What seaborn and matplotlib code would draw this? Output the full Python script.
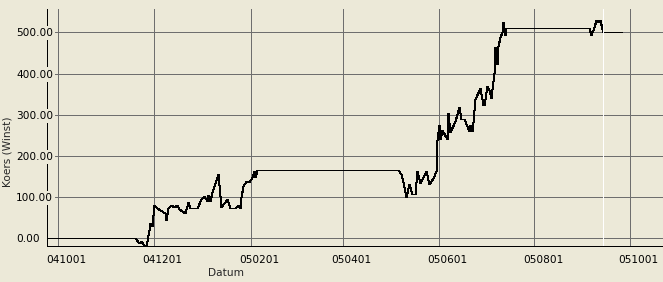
import matplotlib
matplotlib.use("Agg")
import matplotlib.pyplot as plt
import matplotlib.transforms as mtransforms
import seaborn as sns
import pandas as pd

# ---- data ----
dates = [
    "2004-09-24", "2004-11-19", "2004-11-22", "2004-11-23", "2004-11-25", "2004-11-26",
    "2004-11-28", "2004-11-29", "2004-11-30", "2004-12-01", "2004-12-03", "2004-12-05",
    "2004-12-08", "2004-12-09", "2004-12-10", "2004-12-12", "2004-12-14", "2004-12-16",
    "2004-12-17", "2004-12-21", "2004-12-23", "2004-12-24", "2004-12-29", "2004-12-31",
    "2005-01-02", "2005-01-04", "2005-01-05", "2005-01-06", "2005-01-07", "2005-01-11",
    "2005-01-13", "2005-01-15", "2005-01-17", "2005-01-19", "2005-01-22", "2005-01-24",
    "2005-01-25", "2005-01-26", "2005-01-27", "2005-01-29", "2005-01-31", "2005-02-02",
    "2005-02-03", "2005-02-04", "2005-02-05", "2005-05-06", "2005-05-08", "2005-05-09",
    "2005-05-11", "2005-05-13", "2005-05-15", "2005-05-17", "2005-05-18", "2005-05-20",
    "2005-05-22", "2005-05-24", "2005-05-26", "2005-05-28", "2005-05-30", "2005-05-31",
    "2005-06-01", "2005-06-02", "2005-06-03", "2005-06-06", "2005-06-07", "2005-06-08",
    "2005-06-11", "2005-06-14", "2005-06-15", "2005-06-17", "2005-06-20", "2005-06-21",
    "2005-06-22", "2005-06-23", "2005-06-24", "2005-06-27", "2005-06-29", "2005-06-30",
    "2005-07-02", "2005-07-03", "2005-07-04", "2005-07-05", "2005-07-06", "2005-07-07",
    "2005-07-08", "2005-07-09", "2005-07-10", "2005-07-11", "2005-07-12", "2005-07-13",
    "2005-07-14", "2005-09-05", "2005-09-06", "2005-09-08", "2005-09-09", "2005-09-11",
    "2005-09-12", "2005-09-13", "2005-09-14", "2005-09-26",
]
koers = [
    0, 0, -11, -7, -17, -19,
    19, 36, 29, 82, 74, 68,
    61, 45, 74, 80, 76, 82,
    72, 61, 88, 74, 74, 96,
    102, 91, 104, 91, 112, 155,
    76, 86, 96, 74, 74, 80,
    74, 100, 126, 139, 137, 149,
    163, 149, 165, 165, 157, 137,
    100, 133, 108, 108, 163, 134,
    149, 163, 133, 147, 163, 238,
    274, 242, 262, 242, 304, 258,
    286, 320, 290, 290, 260, 274,
    260, 282, 339, 366, 323, 323,
    370, 359, 341, 363, 401, 464,
    424, 468, 489, 501, 525, 494,
    511, 511, 494, 513, 531, 526,
    531, 507, 501, 501,
]
x_tick_dates = ["2004-10-01", "2004-12-01", "2005-02-01", "2005-04-01",
                "2005-06-01", "2005-08-01", "2005-10-01"]
x_tick_labels = ["041001", "041201", "050201", "050401", "050601", "050801", "051001"]
y_ticks = [0, 100, 200, 300, 400, 500]
y_tick_labels = ["0.00", "100.00", "200.00", "300.00", "400.00", "500.00"]
cursor_date = "2005-09-14"
x_range = ["2004-09-24", "2005-10-22"]
y_range = [-19.4, 556]

BG = "#ECE9D8"
GRID = "#6E6E6E"
LW = 0.72  # 1 pixel at 100 dpi

df = pd.DataFrame({"Datum": pd.to_datetime(dates), "Koers (Winst)": koers})

sns.set_style("white")
plt.rcParams["font.family"] = ["DejaVu Sans"]

W, H = 663, 282
fig = plt.figure(figsize=(W / 100, H / 100), dpi=100, facecolor=BG)
left, right, top, bottom = 47, 663, 9.3, 246.3
ax = fig.add_axes([left / W, 1 - bottom / H, (right - left) / W, (bottom - top) / H])
ax.set_facecolor(BG)

sns.lineplot(data=df, x="Datum", y="Koers (Winst)", ax=ax, color="black",
             linewidth=LW, estimator=None, sort=False, zorder=4)
for l in ax.lines:
    l.set_antialiased(False)
    l.set_snap(True)

ax.axvline(pd.Timestamp(cursor_date), color="white", linewidth=LW, zorder=5,
           antialiased=False)

ax.set_xlim(pd.Timestamp(x_range[0]), pd.Timestamp(x_range[1]))
ax.set_ylim(*y_range)

ax.set_xticks(pd.to_datetime(x_tick_dates))
ax.set_xticklabels(x_tick_labels)
ax.set_yticks(y_ticks)
ax.set_yticklabels(y_tick_labels)

ax.grid(True, color=GRID, linewidth=LW)
for gl in ax.get_xgridlines() + ax.get_ygridlines():
    gl.set_antialiased(False)

for s in ["top", "right"]:
    ax.spines[s].set_visible(False)
for s in ["left", "bottom"]:
    ax.spines[s].set_color("black")
    ax.spines[s].set_linewidth(LW)
    ax.spines[s].set_antialiased(False)

fs = 7.6
ax.tick_params(axis="x", length=4 * 0.72, width=LW, color=GRID, pad=3.5,
               labelsize=fs, labelcolor="black")
ax.tick_params(axis="y", length=4 * 0.72, width=LW, color="black", pad=(31 - 4) * 0.72,
               labelsize=fs, labelcolor="black")

off = mtransforms.ScaledTranslation(-11.6 / 100, 0, fig.dpi_scale_trans)
for lab in ax.get_xticklabels():
    lab.set_ha("left")
    lab.set_transform(lab.get_transform() + off)
for lab in ax.get_yticklabels():
    lab.set_ha("left")
    lab.set_bbox(dict(facecolor=BG, edgecolor="none", pad=1.5))

ax.yaxis.set_zorder(3)
ax.xaxis.set_zorder(1)

ax.set_xlabel("Datum", fontsize=fs)
ax.xaxis.set_label_coords((226 - left) / (right - left), (bottom - 272.7) / (bottom - top))
ax.xaxis.label.set_va("center")
ax.set_ylabel("Koers (Winst)", fontsize=fs)
ax.yaxis.set_label_coords((7.3 - left) / (right - left), (bottom - 152) / (bottom - top))
ax.yaxis.label.set_va("center")

fig.savefig("out.png", dpi=100, facecolor=BG)
